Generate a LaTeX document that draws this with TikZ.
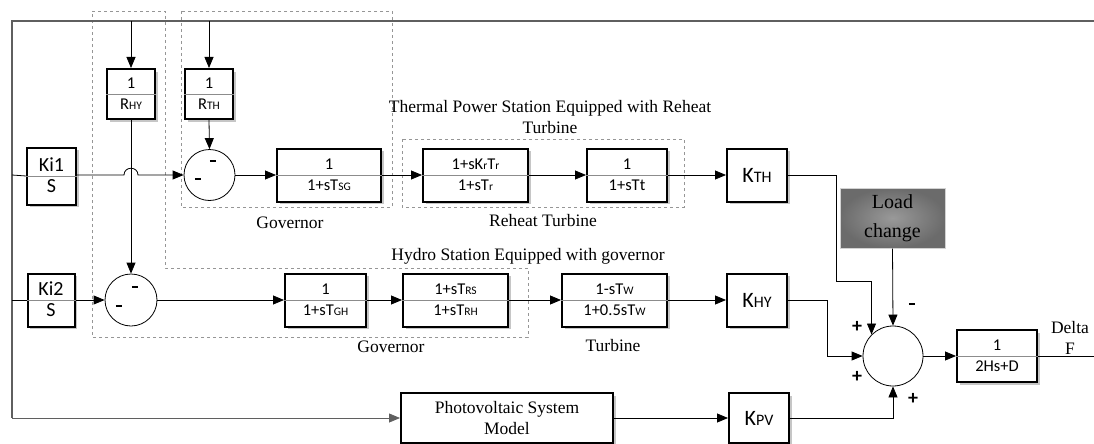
\documentclass[tikz,border=0pt]{standalone}
\usepackage{fontspec}
\setmainfont{Liberation Serif}
\newfontfamily\blockfont{Carlito}
\usetikzlibrary{arrows.meta,shadows,positioning}
\definecolor{lineGray}{RGB}{95,95,95}
\definecolor{divGray}{RGB}{140,140,140}
\definecolor{dashGray}{RGB}{150,150,150}
\newcommand{\smc}[1]{{\fontsize{11.5}{11.5}\selectfont #1}}
\newcommand{\gsmc}[1]{{\fontsize{16}{16}\selectfont #1}}
\newcommand{\minus}{\rule[4pt]{6.5pt}{2.2pt}}
\newcommand{\tfblock}[6][tftext]{%
  \node[tfbox, #4] (#2) at (#3) {};
  \draw[divline] (#2.west) -- (#2.east);
  \node[#1] at ([yshift=10pt]#2.center) {#5};
  \node[#1] at ([yshift=-11pt]#2.center) {#6};
}

\begin{document}
\begin{tikzpicture}[x=1pt,y=-1pt,
    tfbox/.style={draw, line width=2pt, fill=white, minimum height=53, inner sep=0pt,
      drop shadow={shadow xshift=2.5pt, shadow yshift=-2.5pt, opacity=0.45}},
    tftext/.style={font=\blockfont\fontsize{16.5}{16.5}\selectfont, inner sep=1pt, text height=10pt, text depth=1pt},
    kitext/.style={font=\blockfont\fontsize{20}{20}\selectfont, inner sep=1pt, text height=12pt, text depth=1pt},
    gain/.style={tfbox, minimum width=60, font=\blockfont\fontsize{22}{22}\selectfont},
    divline/.style={draw=divGray, line width=1pt},
    sumnode/.style={circle, draw, line width=0.8pt, fill=white, inner sep=0pt},
    sig/.style={draw, line width=0.8pt, -{Triangle[length=11pt,width=9pt]}},
    wire/.style={draw, line width=0.8pt},
    loopwire/.style={draw=lineGray, line width=1.5pt},
    dashbox/.style={draw=dashGray, dashed, line width=0.8pt},
    sgn/.style={font=\blockfont\bfseries\fontsize{20}{20}\selectfont, inner sep=0pt},
    lbl/.style={font=\fontsize{17.5}{21}\selectfont, align=center, inner sep=0pt},
    loadbox/.style={draw=gray!35, line width=1pt, inner color=black!40, outer color=black!58,
      minimum width=105, minimum height=60, align=center, font=\fontsize{20}{29}\selectfont}]
  \useasboundingbox (0,0) rectangle (1094,444);

  % dashed groups
  \draw[dashbox] (92,11) -- (165,11) -- (165,268) -- (528,268) -- (528,337) -- (92,337) -- cycle;
  \draw[dashbox] (181,11) rectangle (392,207);
  \draw[dashbox] (402,139) rectangle (684,207);

  % blocks
  \tfblock[kitext]{ki1}{51.5,176}{minimum width=49, minimum height=57}{Ki1}{S}
  \tfblock[kitext]{ki2}{51,300}{minimum width=47}{Ki2}{S}
  \tfblock{rhy}{131,94}{minimum width=48, minimum height=50}{1}{R\smc{HY}}
  \tfblock{rth}{209,94}{minimum width=48, minimum height=50}{1}{R\smc{TH}}
  \tfblock{gov1}{329,175}{minimum width=104}{1}{1+sT\smc{SG}}
  \tfblock{reh1}{475.5,175}{minimum width=105}{1+sK\smc{r}T\smc{r}}{1+sT\smc{r}}
  \tfblock{reh2}{627,175}{minimum width=80}{1}{1+sTt}
  \tfblock{gov2}{325.5,300}{minimum width=81}{1}{1+sT\smc{GH}}
  \tfblock{gov3}{455.5,300}{minimum width=105}{1+sT\smc{RS}}{1+sT\smc{RH}}
  \tfblock{turb}{614.5,300}{minimum width=105}{1-sT\smc{W}}{1+0.5sT\smc{W}}
  \tfblock{plant}{997,356}{minimum width=80, minimum height=52}{1}{2Hs+D}
  \node[gain] (kth) at (757,175) {K\gsmc{TH}};
  \node[gain] (khy) at (757,300) {K\gsmc{HY}};
  \node[gain, minimum height=50] (kpv) at (759,418) {K\gsmc{PV}};
  \node[tfbox, minimum width=212, minimum height=50, align=center,
    font=\fontsize{17.5}{21}\selectfont] (pv) at (507,418) {Photovoltaic System\\Model};
  \node[loadbox] (load) at (892.5,218) {Load\\change};

  % summing points
  \node[sumnode, minimum size=51] (sum1) at (209.5,175) {};
  \node[sumnode, minimum size=52] (sum2) at (131,300) {};
  \node[sumnode, minimum size=60] (sum3) at (893,356) {};
  \node[sgn] at (213,163) {\minus};
  \node[sgn] at (198,181) {\minus};
  \node[sgn] at (135,289) {\minus};
  \node[sgn] at (119,308) {\minus};
  \node[sgn] at (912,306) {\minus};
  \node[sgn] at (857,327) {+};
  \node[sgn] at (857,377) {+};
  \node[sgn] at (913,399) {+};

  % feedback loop
  \coordinate (topR) at (1094,21);
  \coordinate (topL) at (12,21);
  \coordinate (botL) at (12,418);
  \draw[loopwire] (topR) -- (topL) -- (botL);
  \draw[sig, draw=lineGray] (botL) -- (pv.west);
  \draw[wire] (12,175) -- (ki1.west);
  \draw[wire] (12,300) -- (ki2.west);
  \draw[sig] (rhy.north |- topL) -- (rhy.north);
  \draw[sig] (rth.north |- topL) -- (rth.north);

  % thermal path
  \draw[sig] (rth.south) -- (sum1.north);
  \draw[sig] (ki1.east |- sum1.west) -- (124,175) .. controls (124,166) and (138,166) .. (138,175) -- (sum1.west);
  \draw[sig] (sum1.east) -- (gov1.west);
  \draw[sig] (gov1.east) -- (reh1.west);
  \draw[sig] (reh1.east) -- (reh2.west);
  \draw[sig] (reh2.east) -- (kth.west);

  % hydro path
  \draw[sig] (rhy.south) -- (sum2.north);
  \draw[sig] (ki2.east) -- (sum2.west);
  \draw[sig] (sum2.east) -- (gov2.west);
  \draw[sig] (gov2.east) -- (gov3.west);
  \draw[sig] (gov3.east) -- (turb.west);
  \draw[sig] (turb.east) -- (khy.west);

  % PV path
  \draw[sig] (pv.east) -- (kpv.west);

  % into the summing point
  \draw[sig] (kth.east) -- (836,175) -- (836,281) -| (sum3.north west);
  \draw[sig] (khy.east) -- (827,300) |- (sum3.west);
  \draw[sig] (load.south) -- (sum3.north);
  \draw[sig] (kpv.east) -| (sum3.south);
  \draw[sig] (sum3.east) -- (plant.west);
  \coordinate (outR) at (1094,356);
  \draw[wire] (plant.east) -- (outR);

  % labels
  \node[lbl] at (550,117) {Thermal Power Station Equipped with Reheat\\Turbine};
  \node[lbl] at (543,221) {Reheat Turbine};
  \node[lbl] at (290,223) {Governor};
  \node[lbl] at (528,256) {Hydro Station Equipped with governor};
  \node[lbl] at (391,347) {Governor};
  \node[lbl] at (613,346) {Turbine};
  \node[lbl] at (1070,338) {Delta\\F};
\end{tikzpicture}
\end{document}
